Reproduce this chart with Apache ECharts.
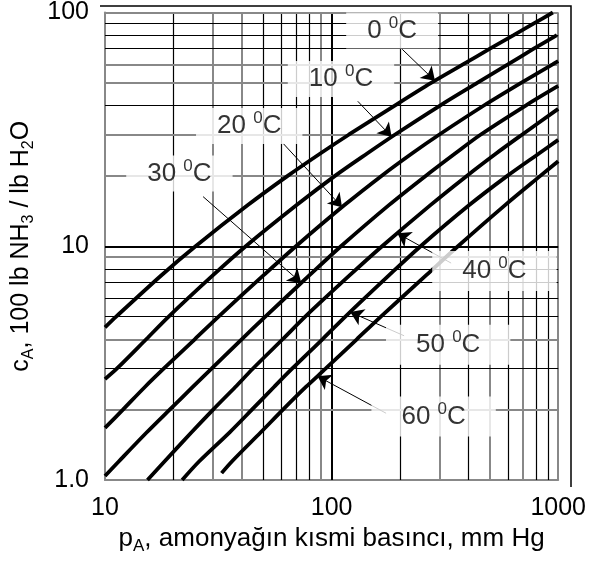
<!DOCTYPE html>
<html>
<head>
<meta charset="utf-8">
<script src="https://cdn.jsdelivr.net/npm/echarts@6/dist/echarts.min.js"></script>
<style>
  html, body { margin: 0; padding: 0; background: #fff; }
  #chart { width: 589px; height: 568px; }
</style>
</head>
<body>
<div id="chart"></div>
<script>
const FONT = '"Liberation Sans", Arial, sans-serif';

// temperatures (deg C) of the curves
const temps = ['0', '10', '20', '30', '40', '50', '60'];

// [p_A mm Hg, c_A lb NH3 / 100 lb H2O]
const curve0 = [[10, 4.5], [11.2, 5], [17.7, 7.5], [25.1, 10], [42.7, 15], [64, 20], [89.5, 25], [119, 30], [190, 40], [275, 50], [380, 60], [500, 70], [636, 80], [785, 90], [947, 100]];
const curve10 = [[10, 2.7], [11.3, 3], [15.2, 4], [19.1, 5], [29.9, 7.5], [41.8, 10], [70.1, 15], [103.5, 20], [144, 25], [190, 30], [301, 40], [439, 50], [600, 60], [780, 70], [987, 80]];
const curve20 = [[10, 1.67], [12, 2], [15, 2.5], [18.2, 3], [24.9, 4], [31.7, 5], [50, 7.5], [69.6, 10], [114, 15], [166, 20], [227, 25], [298, 30], [470, 40], [686, 50], [945, 60], [1000, 62]];
const curve30 = [[10, 1.04], [11.5, 1.2], [15.3, 1.6], [19.3, 2], [24.4, 2.5], [29.6, 3], [40.1, 4], [51, 5], [79.7, 7.5], [110, 10], [179, 15], [260, 20], [352, 25], [454, 30], [719, 40], [1000, 48.5]];
const curve40 = [[15.4, 1.0], [18.3, 1.2], [24.1, 1.6], [30, 2], [37.6, 2.5], [45, 3], [60.8, 4], [76.5, 5], [120, 7.5], [167, 10], [273, 15], [395, 20], [534, 25], [692, 30], [1000, 38.7]];
const curve50 = [[21.9, 1.0], [26, 1.2], [35.5, 1.6], [44.5, 2], [55.7, 2.5], [67.1, 3], [91.1, 4], [115, 5], [179, 7.5], [247, 10], [405, 15], [596, 20], [825, 25], [1000, 28.5]];
const curve60 = [[32.7, 1.07], [36.3, 1.2], [48.7, 1.6], [61, 2], [77, 2.5], [94.3, 3], [129.2, 4], [165, 5], [261, 7.5], [361, 10], [583, 15], [834, 20], [1000, 23.1]];
const curves = [curve0, curve10, curve20, curve30, curve40, curve50, curve60];

// grid lines (dark and light ones as drawn)
const xGridDark = [20, 50, 60, 70, 80, 100, 200, 400, 600, 800, 900];
const xGridLight = [30, 40, 90, 300, 500, 700, 1000];
const yGridDark = [90, 80, 70, 40, 10, 8, 7, 6, 5, 3];
const yGridLight = [100, 60, 50, 30, 20, 9, 4, 2];

// label centres, arrow starts and arrow tips
const labelPos = [[185, 83.8], [110, 51.9], [43.3, 32.7], [21.3, 20.5], [523, 7.83], [327, 3.79], [282, 1.87]];
const arrowFrom = [[205, 69.6], [130.5, 41.7], [61.2, 27.5], [27.1, 16.3], [337, 8.47], [209, 4.14], [174, 1.93]];
const arrowTo = [[286, 51], [184, 29.4], [111.2, 14.7], [73.5, 6.97], [195, 11.36], [120.8, 5.23], [86.7, 2.78]];

function makeRich(size) {
  const small = Math.round(size * 0.65);
  return {
    t: { fontSize: size, lineHeight: size + 6, color: '#000', fontFamily: FONT },
    sup: { fontSize: small, lineHeight: small, verticalAlign: 'top', color: '#000', fontFamily: FONT },
    sub: { fontSize: small, lineHeight: small, verticalAlign: 'bottom', color: '#000', fontFamily: FONT }
  };
}

const chart = echarts.init(document.getElementById('chart'));

const solid = (color, width) => ({ color: color, width: width, type: 'solid' });
const gridLines = []
  .concat(xGridDark.map(v => ({ xAxis: v, lineStyle: solid('#000', v === 100 ? 2 : 1.2) })))
  .concat(xGridLight.map(v => ({ xAxis: v, lineStyle: solid('#888', 2) })))
  .concat(yGridDark.map(v => ({ yAxis: v, lineStyle: solid('#000', v === 10 ? 2 : 1.2) })))
  .concat(yGridLight.map(v => ({ yAxis: v, lineStyle: solid('#888', 2) })));

const series = [{
  type: 'line',
  data: [[10, 1]],
  showSymbol: false,
  lineStyle: { width: 0 },
  z: 1,
  markLine: {
    silent: true,
    symbol: 'none',
    label: { show: false },
    lineStyle: { type: 'solid' },
    data: gridLines
  }
}];

curves.forEach((c, i) => {
  series.push({
    name: temps[i] + ' °C',
    type: 'line',
    data: c,
    showSymbol: false,
    smooth: 0.3,
    z: 5,
    lineStyle: { color: '#000', width: 3.8 }
  });
});

series.push({
  type: 'scatter',
  z: 10,
  symbolSize: 1,
  itemStyle: { color: 'rgba(0,0,0,0)' },
  data: labelPos.map((v, i) => ({
    value: v,
    name: temps[i],
    label: { padding: i < 4 ? [2, 21] : [4, 30] }
  })),
  label: {
    show: true,
    position: 'inside',
    formatter: p => `{t|${p.name} }{sup|0}{t|C}`,
    backgroundColor: '#fff',
    rich: makeRich(26)
  },
  markLine: {
    silent: true,
    symbol: ['none', 'arrow'],
    symbolSize: 13,
    label: { show: false },
    lineStyle: { color: '#000', width: 1, type: 'solid' },
    data: arrowFrom.map((a, i) => [{ coord: a }, { coord: arrowTo[i] }])
  }
});

const option = {
  animation: false,
  grid: { left: 105, right: 22, top: 10, bottom: 88 },
  xAxis: {
    type: 'log',
    logBase: 10,
    min: 10,
    max: 1000,
    axisLine: { show: true, lineStyle: { color: '#888', width: 2 } },
    axisTick: { show: false },
    splitLine: { show: false },
    axisLabel: {
      fontSize: 25, color: '#000', margin: 16, fontFamily: FONT,
      formatter: v => String(v)
    },
    name: '{t|p}{sub|A}{t|, amonyağın kısmi basıncı, mm Hg}',
    nameLocation: 'middle',
    nameGap: 39,
    nameTextStyle: { rich: makeRich(26) }
  },
  yAxis: {
    type: 'log',
    logBase: 10,
    min: 1,
    max: 100,
    axisLine: { show: true, lineStyle: { color: '#888', width: 2 } },
    axisTick: { show: false },
    splitLine: { show: false },
    axisLabel: {
      fontSize: 25, color: '#000', margin: 16, fontFamily: FONT,
      formatter: v => v === 1 ? '1.0' : String(v)
    },
    name: '{t|c}{sub|A}{t|, 100 lb NH}{sub|3}{t| / lb H}{sub|2}{t|O}',
    nameLocation: 'middle',
    nameRotate: 90,
    nameGap: 50,
    nameTextStyle: { rich: makeRich(25) }
  },
  graphic: [{
    type: 'polyline',
    shape: { points: [[100, 6], [571, 6], [571, 487]] },
    style: { stroke: '#000', lineWidth: 1.5, fill: null }
  }],
  series: series
};

chart.setOption(option);
</script>
</body>
</html>
